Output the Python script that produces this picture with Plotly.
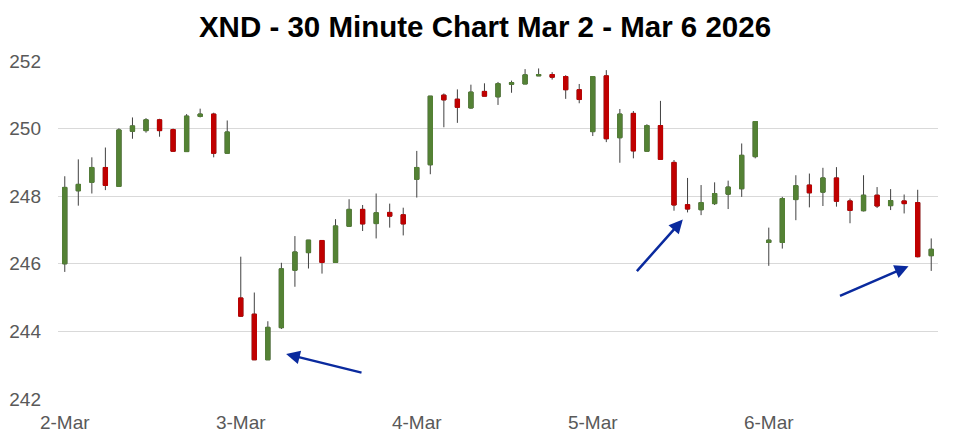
import plotly.graph_objects as go

days = ["2-Mar", "3-Mar", "4-Mar", "5-Mar", "6-Mar"]
times = ["09:30", "10:00", "10:30", "11:00", "11:30", "12:00", "12:30",
         "13:00", "13:30", "14:00", "14:30", "15:00", "15:30"]

opens = [
    246.00, 248.16, 248.41, 248.85, 248.29, 249.92, 249.94, 250.26, 249.97, 249.32, 250.36, 250.43, 249.27,
    244.99, 244.51, 243.16, 244.11, 245.81, 246.33, 246.69, 246.04, 247.11, 247.61, 247.19, 247.52, 247.45,
    248.50, 248.93, 250.99, 250.87, 250.61, 251.10, 250.94, 251.31, 251.32, 251.56, 251.60, 251.54, 251.15,
    249.91, 251.56, 249.73, 250.45, 249.33, 250.09, 249.00, 247.75, 247.60, 247.78, 248.06, 248.22, 249.17,
    246.63, 246.63, 247.90, 248.33, 248.12, 248.54, 247.86, 247.57, 248.03, 247.72, 247.86, 247.81, 246.24,
]
highs = [
    248.59, 249.09, 249.15, 249.44, 250.01, 250.33, 250.31, 250.29, 250.00, 250.43, 250.59, 250.47, 250.24,
    246.21, 245.15, 244.30, 246.03, 246.82, 246.70, 246.69, 247.32, 247.91, 247.74, 248.08, 247.78, 247.66,
    249.34, 250.96, 251.04, 251.16, 251.30, 251.34, 251.38, 251.42, 251.76, 251.78, 251.67, 251.58, 251.32,
    251.54, 251.73, 250.58, 250.52, 250.13, 250.82, 249.07, 248.54, 248.33, 248.41, 248.46, 249.56, 250.21,
    247.07, 247.98, 248.62, 248.67, 248.84, 248.86, 247.93, 248.62, 248.27, 248.21, 248.05, 248.19, 246.75,
]
lows = [
    245.76, 247.72, 248.08, 248.18, 248.29, 249.70, 249.88, 249.76, 249.31, 249.32, 250.33, 249.15, 249.27,
    244.43, 243.16, 243.16, 244.07, 245.32, 245.86, 245.71, 246.04, 247.11, 246.97, 246.75, 247.07, 246.84,
    247.96, 248.65, 250.04, 250.17, 250.59, 250.96, 250.70, 251.06, 251.32, 251.56, 251.45, 250.88, 250.75,
    249.78, 249.60, 248.99, 249.12, 249.33, 249.09, 247.57, 247.52, 247.44, 247.74, 247.62, 247.98, 249.12,
    245.94, 246.45, 247.29, 247.67, 247.71, 247.69, 247.20, 247.55, 247.65, 247.59, 247.49, 246.19, 245.79,
]
closes = [
    248.26, 248.35, 248.85, 248.32, 249.96, 250.08, 250.26, 249.94, 249.33, 250.37, 250.43, 249.27, 249.90,
    244.45, 243.16, 244.12, 245.85, 246.35, 246.70, 246.04, 247.12, 247.61, 247.18, 247.51, 247.41, 247.18,
    248.85, 250.96, 250.85, 250.63, 251.08, 250.96, 251.33, 251.36, 251.59, 251.60, 251.52, 251.15, 250.86,
    251.54, 249.70, 250.43, 249.34, 250.09, 249.09, 247.74, 247.62, 247.81, 248.08, 248.27, 249.21, 250.21,
    246.70, 247.93, 248.31, 248.10, 248.54, 247.85, 247.58, 248.03, 247.71, 247.87, 247.78, 246.21, 246.43,
]

# arrows: (head index, head price, tail index, tail price)
arrows = [
    (16.35, 243.33, 22.03, 242.77),
    (45.65, 247.31, 42.16, 245.74),
    (62.32, 245.93, 57.15, 245.03),
]

y_ticks = [242, 244, 246, 248, 250, 252]

categories = [f"{d} {t}" for d in days for t in times]
body_hi = [max(o, c) for o, c in zip(opens, closes)]
body_lo = [min(o, c) for o, c in zip(opens, closes)]

GREEN = "#548235"
RED = "#C00000"
WICK = "#404040"
FONT = "Liberation Sans, Arial, sans-serif"

fig = go.Figure()
# wicks
fig.add_trace(go.Candlestick(
    x=categories, open=opens, high=highs, low=lows, close=closes,
    increasing=dict(line=dict(color=WICK, width=1), fillcolor=WICK),
    decreasing=dict(line=dict(color=WICK, width=1), fillcolor=WICK),
    whiskerwidth=0, hoverinfo="skip", showlegend=False,
))
# bodies
fig.add_trace(go.Candlestick(
    x=categories, open=opens, high=body_hi, low=body_lo, close=closes,
    increasing=dict(line=dict(color=GREEN, width=1), fillcolor=GREEN),
    decreasing=dict(line=dict(color=RED, width=1), fillcolor=RED),
    whiskerwidth=0, showlegend=False,
))

for hx, hy, tx, ty in arrows:
    fig.add_annotation(
        x=hx, y=hy, ax=tx, ay=ty, xref="x", yref="y", axref="x", ayref="y",
        showarrow=True, arrowhead=2, arrowsize=1.1, arrowwidth=2.5,
        arrowcolor="#0A2A9E", text="",
    )

# the page body adds an 8px offset; compensate so the plot area lands as in the reference
fig.update_layout(
    width=962, height=432,
    margin=dict(l=50, r=32, t=53, b=41, autoexpand=False),
    paper_bgcolor="white", plot_bgcolor="white",
    title=dict(text="<b>XND - 30 Minute Chart Mar 2 - Mar 6 2026</b>",
               x=(485 - 8) / 962, xanchor="center", xref="container",
               y=1 - 19 / 432, yanchor="middle",
               font=dict(family=FONT, size=29.5, color="#000000")),
    font=dict(family=FONT, size=19, color="#595959"),
    boxgap=0.55,
    xaxis=dict(
        type="category", categoryorder="array", categoryarray=categories,
        range=[-0.5, len(categories) - 0.5],
        tickvals=[f"{d} {times[0]}" for d in days], ticktext=days,
        showgrid=False, zeroline=False, showline=False, ticks="",
        rangeslider=dict(visible=False), automargin=False,
        tickfont=dict(family=FONT, size=19, color="#595959"),
        ticklabelstandoff=10,
    ),
    yaxis=dict(
        range=[242, 252], tickvals=y_ticks,
        showgrid=True, gridcolor="#D9D9D9", gridwidth=1,
        zeroline=False, showline=False, ticks="", automargin=False,
        tickfont=dict(family=FONT, size=19, color="#595959"),
        ticklabelstandoff=16,
    ),
)

fig.write_html("out.html")
